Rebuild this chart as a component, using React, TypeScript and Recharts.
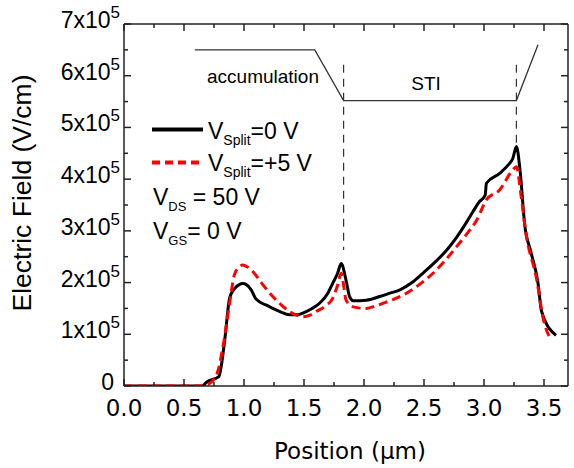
import React from 'react'
import { LineChart, Line, XAxis, YAxis, ReferenceLine, Customized } from 'recharts'

// tick values (x in µm, y in V/cm)
const xTicks = [0, 0.25, 0.5, 0.75, 1, 1.25, 1.5, 1.75, 2, 2.25, 2.5, 2.75, 3, 3.25, 3.5]
const yTicks = [0, 50000, 100000, 150000, 200000, 250000, 300000, 350000, 400000, 450000, 500000, 550000, 600000, 650000, 700000]

// V_Split = 0 V (field in units of 1e5 V/cm)
const posSplit0 = [0, 0.5, 0.65, 0.69, 0.79, 0.84, 0.88, 0.92, 0.96, 0.99, 1.02, 1.06, 1.1, 1.2, 1.3, 1.38, 1.45, 1.49, 1.56, 1.63, 1.7, 1.74, 1.78, 1.81, 1.85, 1.88, 1.91, 2.02, 2.13, 2.21, 2.3, 2.4, 2.49, 2.59, 2.69, 2.77, 2.85, 2.91, 2.96, 3.01, 3.02, 3.13, 3.2, 3.24, 3.27, 3.3, 3.34, 3.39, 3.45, 3.48, 3.6]
const fieldSplit0 = [0, 0, 0, 0.08, 0.18, 0.9, 1.7, 1.88, 1.96, 1.98, 1.96, 1.86, 1.68, 1.55, 1.44, 1.38, 1.38, 1.41, 1.49, 1.6, 1.8, 1.99, 2.18, 2.37, 2.05, 1.73, 1.65, 1.66, 1.73, 1.79, 1.86, 2.0, 2.18, 2.39, 2.63, 2.87, 3.15, 3.38, 3.56, 3.69, 3.92, 4.11, 4.27, 4.4, 4.63, 4.18, 3.1, 2.6, 1.99, 1.44, 0.98]

// V_Split = +5 V
const posSplit5 = [0, 0.5, 0.65, 0.69, 0.77, 0.83, 0.88, 0.92, 0.96, 0.99, 1.03, 1.075, 1.15, 1.24, 1.31, 1.38, 1.45, 1.49, 1.55, 1.6, 1.68, 1.74, 1.78, 1.81, 1.83, 1.85, 1.91, 2.02, 2.1, 2.16, 2.25, 2.35, 2.46, 2.575, 2.67, 2.77, 2.86, 2.94, 3.02, 3.13, 3.24, 3.27, 3.31, 3.35, 3.44, 3.49, 3.56]
const fieldSplit5 = [0, 0, 0, 0.02, 0.21, 0.83, 1.6, 2.15, 2.3, 2.34, 2.3, 2.21, 1.98, 1.73, 1.57, 1.44, 1.36, 1.34, 1.37, 1.44, 1.55, 1.7, 1.95, 2.18, 1.95, 1.66, 1.53, 1.5, 1.55, 1.6, 1.68, 1.79, 1.96, 2.18, 2.41, 2.69, 2.95, 3.21, 3.6, 3.79, 4.18, 4.24, 3.66, 2.95, 2.05, 1.34, 0.89]

// device cross-section sketch drawn at the top of the plot
const sketchPos = [0.59, 1.59, 1.83, 3.27, 3.45]
const sketchLevel = [6.5, 6.5, 5.52, 5.52, 6.6]

const toRows = (xs: number[], vs: number[]) => xs.map((x, i) => ({ x, e: vs[i] * 1e5 }))

const black = toRows(posSplit0, fieldSplit0)
const red = toRows(posSplit5, fieldSplit5)
const sketch = toRows(sketchPos, sketchLevel)

const AXIS = '#222'
const SANS = 'Liberation Sans, Arial, sans-serif'
const WIDE = 'DejaVu Sans, sans-serif'

const isMajorX = (v: number) => v % 0.5 === 0
const isMajorY = (v: number) => v % 100000 === 0

function BottomTick(props: any) {
  const { x, y, payload } = props
  const major = isMajorX(payload.value)
  return (
    <g>
      <line x1={x} x2={x} y1={y} y2={y - (major ? 7 : 4)} stroke={AXIS} strokeWidth={1.5} />
      {major && (
        <text x={x} y={y + 30} textAnchor="middle" fontFamily={WIDE} fontSize={23} fill="#000">
          {payload.value.toFixed(1)}
        </text>
      )}
    </g>
  )
}

function TopTick(props: any) {
  const { x, y, payload } = props
  const major = isMajorX(payload.value)
  return <line x1={x} x2={x} y1={y} y2={y + (major ? 7 : 4)} stroke={AXIS} strokeWidth={1.5} />
}

function LeftTick(props: any) {
  const { x, y, payload } = props
  const v = payload.value
  const major = isMajorY(v)
  return (
    <g>
      <line x1={x} x2={x + (major ? 7 : 4)} y1={y} y2={y} stroke={AXIS} strokeWidth={1.5} />
      {major && v === 0 && (
        <text x={x - 10} y={y + 4} textAnchor="end" fontFamily={SANS} fontSize={23} fill="#000">0</text>
      )}
      {major && v !== 0 && (
        <text x={x - 4} y={y + 4} textAnchor="end" fontFamily={SANS} fontSize={23} fill="#000">
          {`${v / 100000}x10`}
          <tspan fontSize={17} dy={-10}>5</tspan>
        </text>
      )}
    </g>
  )
}

function RightTick(props: any) {
  const { x, y, payload } = props
  const major = isMajorY(payload.value)
  return <line x1={x} x2={x - (major ? 7 : 4)} y1={y} y2={y} stroke={AXIS} strokeWidth={1.5} />
}

function Overlay() {
  return (
    <g fontFamily={SANS} fill="#000">
      <text x={263} y={83} textAnchor="middle" fontSize={19}>accumulation</text>
      <text x={426} y={90} textAnchor="middle" fontSize={19}>STI</text>

      {/* legend */}
      <line x1={152} x2={203} y1={129.5} y2={129.5} stroke="#000" strokeWidth={4} />
      <text x={208} y={138.5} fontSize={23}>
        V<tspan fontSize={14} dy={6}>Split</tspan><tspan dy={-6}>=0 V</tspan>
      </text>
      <line x1={152} x2={203} y1={162.5} y2={162.5} stroke="#ff0000" strokeWidth={4} strokeDasharray="8 5" />
      <text x={208} y={171} fontSize={23}>
        V<tspan fontSize={14} dy={6}>Split</tspan><tspan dy={-6}>=+5 V</tspan>
      </text>
      <text x={153} y={204.5} fontSize={23}>
        V<tspan fontSize={13} dy={6}>DS</tspan><tspan dy={-6}> = 50 V</tspan>
      </text>
      <text x={153} y={238.5} fontSize={23}>
        V<tspan fontSize={13} dy={6}>GS</tspan><tspan dy={-6}>= 0 V</tspan>
      </text>
    </g>
  )
}

export default function App() {
  return (
    <div style={{ position: 'absolute', left: 0, top: 0, background: '#fff' }}>
      <LineChart width={574} height={468} margin={{ top: 0, right: 0, bottom: 0, left: 0 }}>
        <XAxis
          xAxisId={0}
          dataKey="x"
          type="number"
          domain={[0, 3.7]}
          ticks={xTicks}
          interval={0}
          allowDataOverflow
          height={82}
          tickSize={0}
          tickMargin={0}
          tick={<BottomTick />}
          axisLine={{ stroke: AXIS, strokeWidth: 1.5 }}
          tickLine={false}
          label={{
            content: () => (
              <text x={350} y={459} textAnchor="middle" fontFamily={WIDE} fontSize={23} fill="#000">
                Position (μm)
              </text>
            ),
          }}
        />
        <XAxis
          xAxisId="top"
          orientation="top"
          dataKey="x"
          type="number"
          domain={[0, 3.7]}
          ticks={xTicks}
          interval={0}
          allowDataOverflow
          height={24}
          tickSize={0}
          tickMargin={0}
          tick={<TopTick />}
          axisLine={{ stroke: AXIS, strokeWidth: 1.5 }}
          tickLine={false}
        />
        <YAxis
          yAxisId={0}
          type="number"
          domain={[0, 700000]}
          ticks={yTicks}
          interval={0}
          allowDataOverflow
          width={124}
          tickSize={0}
          tickMargin={0}
          tick={<LeftTick />}
          axisLine={{ stroke: AXIS, strokeWidth: 1.5 }}
          tickLine={false}
          label={{
            content: () => (
              <text
                x={31}
                y={193}
                transform="rotate(-90, 31, 193)"
                textAnchor="middle"
                fontFamily={SANS}
                fontSize={26.5}
                fill="#000"
              >
                Electric Field (V/cm)
              </text>
            ),
          }}
        />
        <YAxis
          yAxisId="right"
          orientation="right"
          type="number"
          domain={[0, 700000]}
          ticks={yTicks}
          interval={0}
          allowDataOverflow
          width={6}
          tickSize={0}
          tickMargin={0}
          tick={<RightTick />}
          axisLine={{ stroke: AXIS, strokeWidth: 1.5 }}
          tickLine={false}
        />

        <Customized component={<Overlay />} />

        {/* device sketch */}
        <Line data={sketch} dataKey="e" type="linear" stroke="#333" strokeWidth={1.3} dot={false} activeDot={false} isAnimationActive={false} />
        <ReferenceLine segment={[{ x: 1.83, y: 621000 }, { x: 1.83, y: 263000 }]} stroke="#333" strokeWidth={1.2} strokeDasharray="8 6" />
        <ReferenceLine segment={[{ x: 3.27, y: 621000 }, { x: 3.27, y: 470000 }]} stroke="#333" strokeWidth={1.2} strokeDasharray="8 6" />

        <Line data={black} dataKey="e" type="monotone" stroke="#000" strokeWidth={3} dot={false} activeDot={false} isAnimationActive={false} />
        <Line data={red} dataKey="e" type="monotone" stroke="#ff0000" strokeWidth={3} strokeDasharray="9 5" dot={false} activeDot={false} isAnimationActive={false} />
      </LineChart>
    </div>
  )
}
